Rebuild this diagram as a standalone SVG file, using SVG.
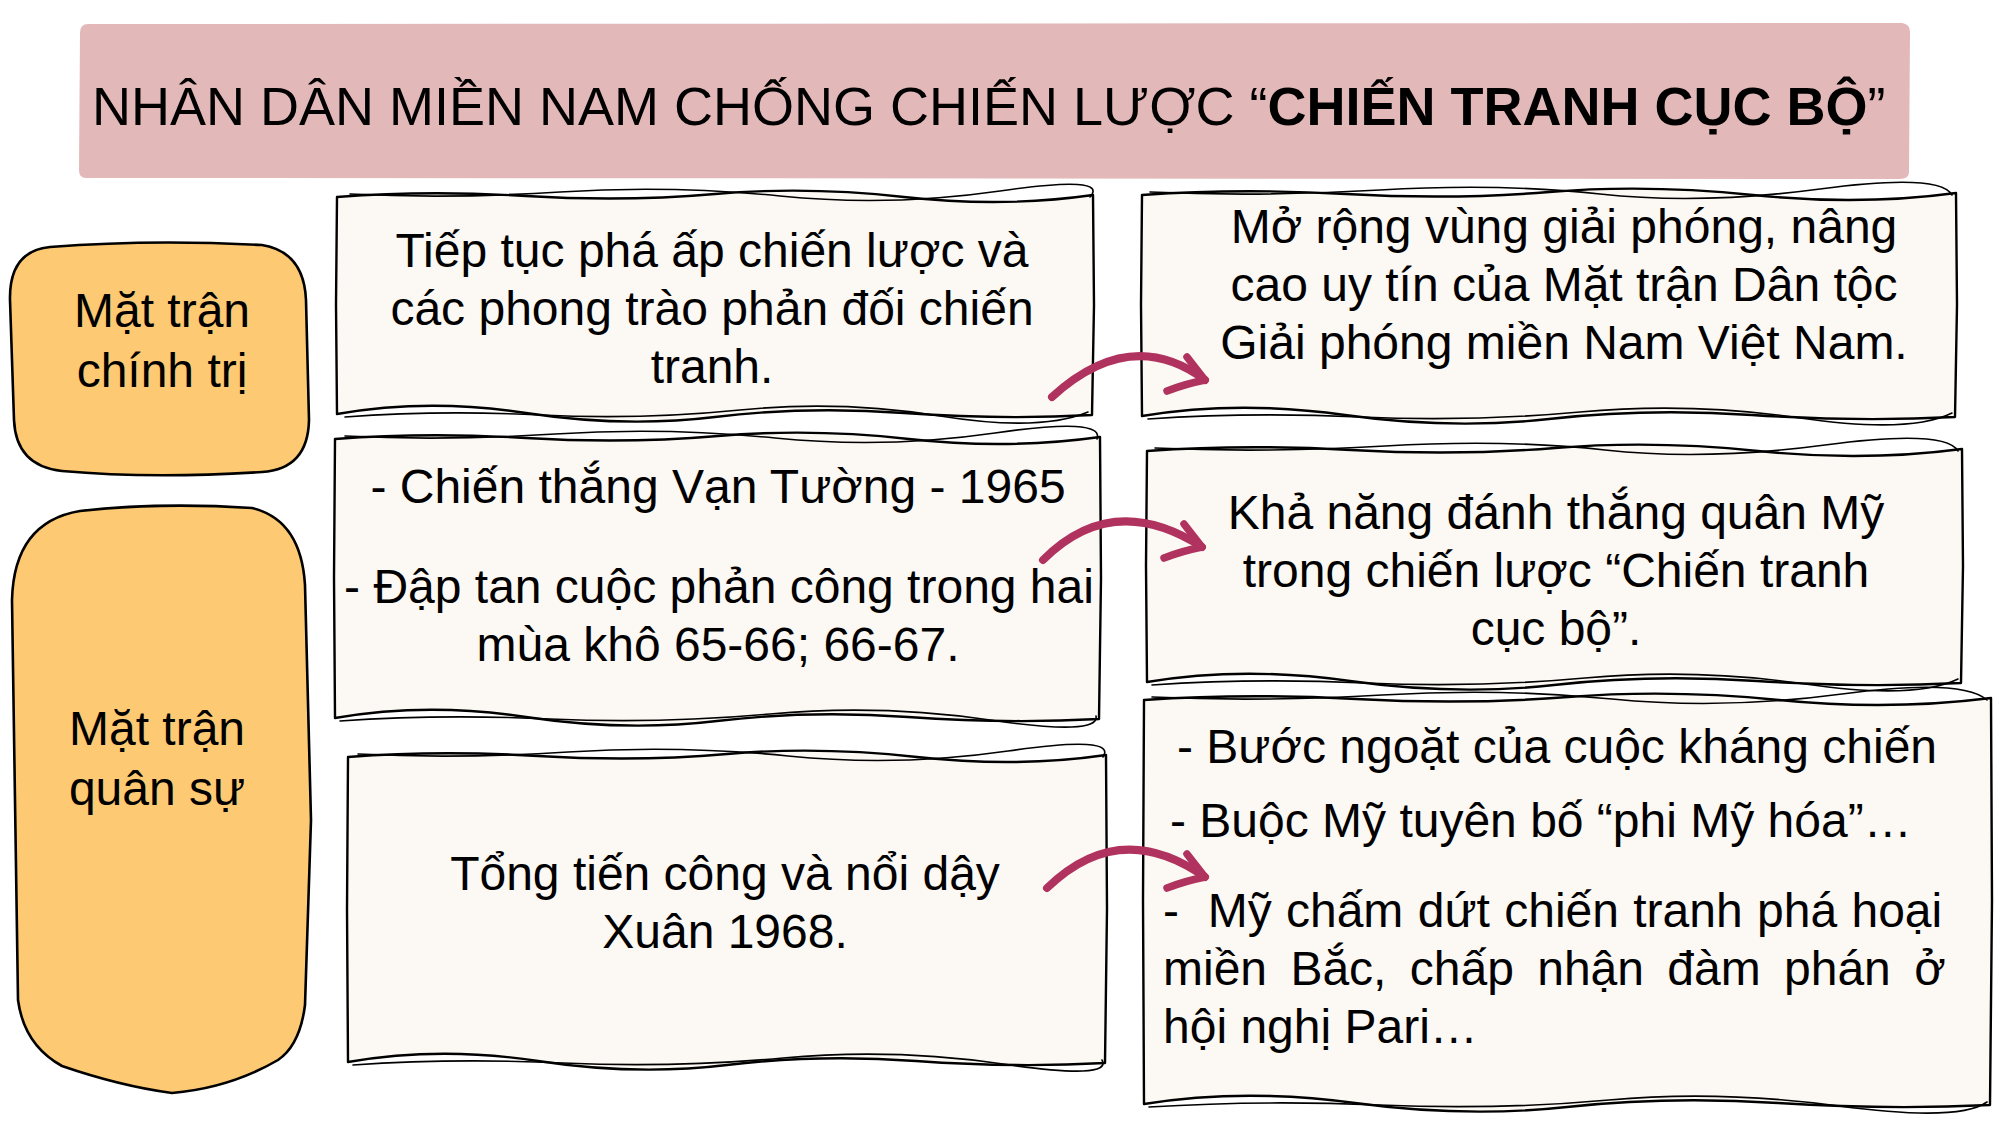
<svg xmlns="http://www.w3.org/2000/svg" width="2001" height="1125" viewBox="0 0 2001 1125">
<style>
text { font-family: 'Liberation Sans', Arial, sans-serif; fill: #000; }
.t { font-size: 48px; }
.c { text-anchor: middle; }
.title { font-size: 54px; }
.b { font-weight: bold; }
.band { fill: #e3b8b9; }
.orange { fill: #fdc972; stroke: #000; stroke-width: 2.6; stroke-linejoin: round; }
.cream { fill: #fcf8f3; stroke: #000; stroke-width: 2.4; stroke-linejoin: round; }
.sk { fill: none; stroke: #000; stroke-width: 1.6; stroke-linecap: round; }
.arrow { fill: none; stroke: #b0325e; stroke-width: 8; stroke-linecap: round; }
.head { fill: none; stroke: #b0325e; stroke-width: 7.5; stroke-linecap: round; stroke-linejoin: round; }
</style>
<defs>
<marker id="ah" markerUnits="userSpaceOnUse" viewBox="-50 -35 60 55" refX="0" refY="0" markerWidth="60" markerHeight="55" orient="0" overflow="visible">
<path class="head" d="M-18,-23 Q-8,-10 0,0 Q-20,4 -38,11"/>
</marker>
</defs>
<rect width="2001" height="1125" fill="#ffffff"/>

<g id="title">
<path class="band" d="M88,24 L1902,23 Q1910,24 1910,32 L1909,172 Q1909,179 1900,179 L86,178 Q79,178 79,170 L80,33 Q80,24 88,24 Z"/>
<text class="title" x="92" y="125">NHÂN DÂN MIỀN NAM CHỐNG CHIẾN LƯỢC “<tspan class="b">CHIẾN TRANH CỤC BỘ</tspan>”</text>
</g>

<g id="pol-label">
<path class="orange" d="M50,247 Q150,239 262,245 Q304,252 306,300 L309,420 Q308,469 262,472 Q150,479 62,471 Q16,466 14,420 L10,300 Q9,251 50,247 Z"/>
<text class="t c" x="162" y="327">Mặt trận</text>
<text class="t c" x="162" y="387">chính trị</text>
</g>

<g id="mil-label">
<path class="orange" d="M80,511 Q160,502 252,508 Q301,520 305,585 L311,820 L305,1005 Q300,1045 278,1060 Q230,1088 172,1093 Q120,1086 62,1066 Q24,1045 18,1000 L15,800 L12,600 Q14,522 80,511 Z"/>
<text class="t c" x="157" y="745">Mặt trận</text>
<text class="t c" x="157" y="805">quân sự</text>
</g>

<g id="box-a">
<path class="cream" d="M337,197 Q428,190 526,196 T715,194 T904,197 T1093,195 L1094,305 L1092,415 Q1002,420 904,413 T715,417 T526,413 T337,414 L336,305 Z"/>
<path class="sk" d="M350,194 Q450,199 560,192 T780,196 T1000,191 T1090,197"/>
<path class="sk" d="M345,417 Q440,410 540,415 T740,410 T940,416 T1088,412"/>
<text class="t c" x="712" y="267">Tiếp tục phá ấp chiến lược và</text>
<text class="t c" x="712" y="325">các phong trào phản đối chiến</text>
<text class="t c" x="712" y="383">tranh.</text>
</g>

<g id="box-b">
<path class="cream" d="M1142,195 Q1240,188 1346,194 T1549,192 T1753,195 T1956,193 L1957,305 L1955,417 Q1858,422 1752,415 T1549,419 T1345,415 T1142,416 L1141,305 Z"/>
<path class="sk" d="M1150,192 Q1260,197 1380,190 T1600,194 T1820,189 T1952,195"/>
<path class="sk" d="M1148,419 Q1250,412 1360,417 T1580,412 T1800,418 T1952,413"/>
<text class="t c" x="1564" y="243">Mở rộng vùng giải phóng, nâng</text>
<text class="t c" x="1564" y="301">cao uy tín của Mặt trận Dân tộc</text>
<text class="t c" x="1564" y="359">Giải phóng miền Nam Việt Nam.</text>
</g>

<g id="box-c">
<path class="cream" d="M335,439 Q427,432 526,438 T718,436 T909,439 T1100,437 L1101,578 L1099,719 Q1007,724 908,717 T717,721 T526,717 T335,718 L334,578 Z"/>
<path class="sk" d="M345,436 Q445,441 555,434 T775,438 T995,433 T1097,439"/>
<path class="sk" d="M340,721 Q440,714 550,719 T770,714 T990,720 T1096,716"/>
<text class="t c" x="718" y="503">- Chiến thắng Vạn Tường - 1965</text>
<text class="t c" x="719" y="603">- Đập tan cuộc phản công trong hai</text>
<text class="t c" x="718" y="661">mùa khô 65-66; 66-67.</text>
</g>

<g id="box-d">
<path class="cream" d="M1147,451 Q1245,444 1351,450 T1555,448 T1758,451 T1962,449 L1963,566 L1961,683 Q1863,688 1757,681 T1554,685 T1350,681 T1147,682 L1146,566 Z"/>
<path class="sk" d="M1155,448 Q1265,453 1385,446 T1605,450 T1825,445 T1958,451"/>
<path class="sk" d="M1152,685 Q1255,678 1365,683 T1585,678 T1805,684 T1958,679"/>
<text class="t c" x="1556" y="529">Khả năng đánh thắng quân Mỹ</text>
<text class="t c" x="1556" y="587">trong chiến lược “Chiến tranh</text>
<text class="t c" x="1556" y="645">cục bộ”.</text>
</g>

<g id="box-e">
<path class="cream" d="M348,757 Q439,750 538,756 T727,754 T917,757 T1106,755 L1107,909 L1105,1063 Q1014,1068 916,1061 T727,1065 T538,1061 T348,1062 L347,909 Z"/>
<path class="sk" d="M358,754 Q458,759 568,752 T788,756 T1008,751 T1103,757"/>
<path class="sk" d="M353,1065 Q453,1058 563,1063 T783,1058 T1003,1064 T1102,1060"/>
<text class="t c" x="725" y="890">Tổng tiến công và nổi dậy</text>
<text class="t c" x="725" y="948">Xuân 1968.</text>
</g>

<g id="box-f">
<path class="cream" d="M1144,700 Q1246,693 1356,699 T1568,697 T1779,700 T1991,698 L1992,900 L1990,1105 Q1888,1110 1778,1103 T1567,1107 T1355,1103 T1144,1104 L1143,900 Z"/>
<path class="sk" d="M1152,697 Q1262,702 1382,695 T1612,699 T1842,694 T1987,700"/>
<path class="sk" d="M1149,1107 Q1259,1100 1379,1105 T1609,1100 T1839,1106 T1987,1102"/>
<text class="t" x="1177" y="763">- Bước ngoặt của cuộc kháng chiến</text>
<text class="t" x="1170" y="837">- Buộc Mỹ tuyên bố “phi Mỹ hóa”…</text>
<text class="t" x="1163" y="927" word-spacing="1" xml:space="preserve">-  Mỹ chấm dứt chiến tranh phá hoại</text>
<text class="t" x="1163" y="985" word-spacing="10">miền Bắc, chấp nhận đàm phán ở</text>
<text class="t" x="1163" y="1043">hội nghị Pari…</text>
</g>

<g id="connectors">
<path class="arrow" d="M1052,397 Q1131,325 1205,380" marker-end="url(#ah)"/>
<path class="arrow" d="M1043,560 Q1113,490 1202,547" marker-end="url(#ah)"/>
<path class="arrow" d="M1047,888 Q1120,817 1205,877" marker-end="url(#ah)"/>
</g>
</svg>
